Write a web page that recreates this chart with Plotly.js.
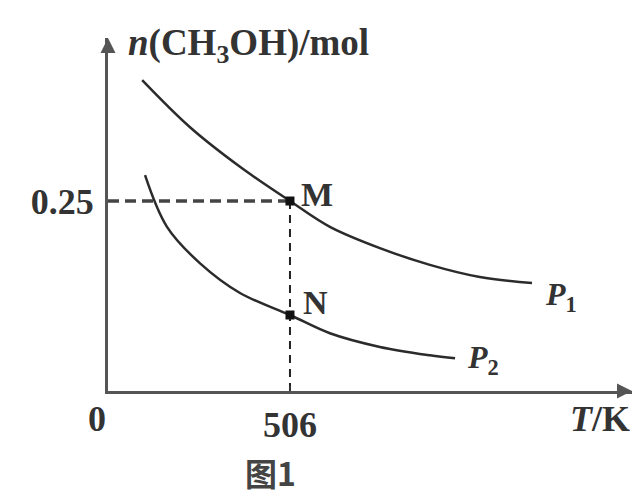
<!DOCTYPE html>
<html>
<head>
<meta charset="utf-8">
<script src="https://cdn.plot.ly/plotly-3.0.1.min.js"></script>
<style>html,body{margin:0;padding:0;background:#fff;}#chart{width:644px;height:494px;}</style>
</head>
<body>
<div id="chart"></div>
<script>
// Temperatures (K) and n(CH3OH) (mol)
const p1T = [95, 228, 367, 506, 617, 756, 895, 1034, 1179];
const p1N = [0.409, 0.347, 0.295, 0.25, 0.216, 0.188, 0.166, 0.150, 0.142];
const p2T = [103, 164, 256, 367, 506, 617, 756, 895, 965];
const p2N = [0.284, 0.216, 0.168, 0.129, 0.100, 0.076, 0.058, 0.047, 0.043];
const pointNames = ['M', 'N'];
const pointT = [506, 506];
const pointN = [0.25, 0.10];
const xTickVals = [506];
const xTickText = ['506'];
const yTickVals = [0.25];
const yTickText = ['0.25'];
const xMax = 1457;
const yMax = 0.4645;

const ink = '#2b2b2b';
const serif = '"Liberation Serif", "DejaVu Serif", serif';

const traces = [
  {x: p1T, y: p1N, mode: 'lines', line: {color: ink, width: 2.5, shape: 'spline', smoothing: 1}, hoverinfo: 'skip'},
  {x: p2T, y: p2N, mode: 'lines', line: {color: ink, width: 2.5, shape: 'spline', smoothing: 1}, hoverinfo: 'skip'},
  {x: [0, pointT[0]], y: [pointN[0], pointN[0]], mode: 'lines', line: {color: '#444', width: 3.5, dash: '11px,6px'}, hoverinfo: 'skip'},
  {x: [pointT[0], pointT[0]], y: [0, pointN[0]], mode: 'lines', line: {color: '#222', width: 2, dash: '8px,6px'}, hoverinfo: 'skip'},
  {x: pointT, y: pointN, mode: 'markers', marker: {color: '#111', size: 9, symbol: 'square'}, hoverinfo: 'skip'}
];

const lblFont = {family: serif, size: 34, color: '#333', weight: 'bold'};
const annotations = [
  // axis arrows
  {x: xMax, y: 0, xref: 'x', yref: 'y', ax: -14, ay: 0, showarrow: true, arrowhead: 2, arrowsize: 1, arrowwidth: 3, arrowcolor: '#555', text: ''},
  {x: 0, y: yMax, xref: 'x', yref: 'y', ax: 0, ay: 14, showarrow: true, arrowhead: 2, arrowsize: 1, arrowwidth: 3, arrowcolor: '#555', text: ''},
  // y axis title
  {x: 0, y: yMax, xref: 'x', yref: 'y', xanchor: 'left', yanchor: 'middle', xshift: 18, yshift: -7, showarrow: false,
   text: '<i>n</i>(CH<sub>3</sub>OH)/mol', font: {family: serif, size: 37, color: '#333', weight: 'bold'}},
  // x axis title
  {x: xMax, y: 0, xref: 'x', yref: 'y', xanchor: 'right', yanchor: 'top', xshift: 0, yshift: -6, showarrow: false,
   text: '<i>T</i>/K', font: {family: serif, size: 36, color: '#333', weight: 'bold'}},
  // origin
  {x: 0, y: 0, xref: 'x', yref: 'y', xanchor: 'right', yanchor: 'top', xshift: 0, yshift: -6, showarrow: false,
   text: '0', font: {family: serif, size: 36, color: '#333', weight: 'bold'}},
  // points
  {x: pointT[0], y: pointN[0], xref: 'x', yref: 'y', xanchor: 'left', yanchor: 'middle', xshift: 9, yshift: 7, showarrow: false,
   text: pointNames[0], font: lblFont},
  {x: pointT[1], y: pointN[1], xref: 'x', yref: 'y', xanchor: 'left', yanchor: 'middle', xshift: 11, yshift: 13, showarrow: false,
   text: pointNames[1], font: lblFont},
  // curve labels
  {x: p1T[p1T.length - 1], y: p1N[p1N.length - 1], xref: 'x', yref: 'y', xanchor: 'left', yanchor: 'middle', xshift: 11, yshift: -13, showarrow: false,
   text: '<i>P</i><sub>1</sub>', font: {family: serif, size: 32, color: '#333', weight: 'bold'}},
  {x: p2T[p2T.length - 1], y: p2N[p2N.length - 1], xref: 'x', yref: 'y', xanchor: 'left', yanchor: 'middle', xshift: 10, yshift: -1, showarrow: false,
   text: '<i>P</i><sub>2</sub>', font: {family: serif, size: 32, color: '#333', weight: 'bold'}},
  // caption
  {x: 0.5, y: 0, xref: 'paper', yref: 'paper', xanchor: 'center', yanchor: 'top', xshift: -100, yshift: -56, showarrow: false,
   text: '图1', font: {family: '"Noto Sans CJK SC", sans-serif', size: 32, color: '#444', weight: 'bold'}}
];

const layout = {
  width: 644, height: 494,
  margin: {l: 108, r: 12, t: 38, b: 103, pad: 0},
  paper_bgcolor: '#fff', plot_bgcolor: '#fff',
  showlegend: false,
  xaxis: {range: [0, xMax], showline: true, linewidth: 3, linecolor: '#555', zeroline: false, showgrid: false,
    tickmode: 'array', tickvals: xTickVals, ticktext: xTickText, ticks: 'inside', ticklen: 5, tickwidth: 2, tickcolor: '#333',
    tickfont: {family: serif, size: 36, color: '#333', weight: 'bold'}, ticklabelstandoff: 0},
  yaxis: {range: [0, yMax], showline: true, linewidth: 3, linecolor: '#555', zeroline: false, showgrid: false,
    tickmode: 'array', tickvals: yTickVals, ticktext: yTickText, ticks: '',
    tickfont: {family: serif, size: 36, color: '#333', weight: 'bold'}, ticklabelstandoff: 4},
  annotations: annotations
};

Plotly.newPlot('chart', traces, layout, {staticPlot: true, displayModeBar: false});
</script>
</body>
</html>
